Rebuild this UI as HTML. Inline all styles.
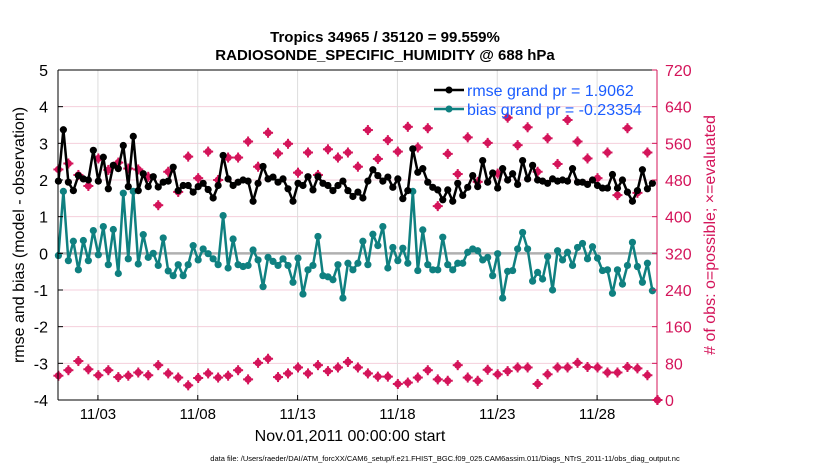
<!DOCTYPE html>
<html><head><meta charset="utf-8"><style>
body{margin:0;background:#fff;}
svg text{font-family:"Liberation Sans",sans-serif;}
</style></head><body>
<svg id="chart" width="830" height="470" viewBox="0 0 830 470" xmlns="http://www.w3.org/2000/svg">
<rect width="830" height="470" fill="#fff"/>
<g id="grid"></g>
<g id="series"></g>
<g id="axes"></g>
<text x="385" y="42" text-anchor="middle" font-size="15" font-weight="bold">Tropics 34965 / 35120 = 99.559%</text>
<text x="385" y="60" text-anchor="middle" font-size="15" font-weight="bold">RADIOSONDE_SPECIFIC_HUMIDITY @ 688 hPa</text>
<text transform="translate(24,235) rotate(-90)" text-anchor="middle" font-size="16">rmse and bias (model - observation)</text>
<text transform="translate(715,235) rotate(-90)" text-anchor="middle" font-size="16" fill="#d4145a"># of obs: o=possible; ×=evaluated</text>
<text x="350" y="441" text-anchor="middle" font-size="16">Nov.01,2011 00:00:00 start</text>
<text x="445" y="461" text-anchor="middle" font-size="7.5">data file: /Users/raeder/DAI/ATM_forcXX/CAM6_setup/f.e21.FHIST_BGC.f09_025.CAM6assim.011/Diags_NTrS_2011-11/obs_diag_output.nc</text>
<g>
<line x1="434" y1="90" x2="464" y2="90" stroke="#000" stroke-width="2.5"/>
<circle cx="449" cy="90" r="3.5" fill="#000"/>
<text x="467" y="96" font-size="16" fill="#1a5cff">rmse grand pr = 1.9062</text>
<line x1="434" y1="109" x2="464" y2="109" stroke="#0f8080" stroke-width="2.5"/>
<circle cx="449" cy="109" r="3.5" fill="#0f8080"/>
<text x="467" y="115" font-size="16" fill="#1a5cff">bias grand pr = -0.23354</text>
</g>
</svg>
<script>
const rmse=[1.97,3.37,1.94,1.71,2.12,2.03,2.0,2.81,1.97,2.62,1.76,2.40,2.31,2.94,1.82,3.19,1.71,2.17,1.82,2.09,1.81,1.94,1.97,2.35,1.71,1.85,1.85,1.67,1.82,1.91,1.74,1.51,1.85,2.67,2.03,1.85,1.94,2.0,1.97,1.42,1.91,2.37,2.03,2.08,1.94,2.03,1.76,1.42,1.91,1.85,2.09,1.73,2.09,1.91,1.85,1.71,1.85,1.97,1.71,1.55,1.67,1.51,1.97,2.28,2.12,1.97,2.08,1.80,2.03,1.49,1.71,2.85,2.21,2.31,1.94,1.80,1.73,1.46,1.73,1.42,1.91,1.58,1.80,2.12,1.82,2.53,1.94,2.19,1.78,2.31,2.0,2.17,1.88,2.53,2.03,2.40,2.0,1.97,1.91,2.03,1.97,2.0,1.97,2.31,1.94,1.94,1.88,2.0,1.85,1.78,1.78,2.15,1.78,2.0,1.67,1.42,1.71,2.28,1.76,1.91];
const bias=[-0.06,1.69,-0.20,0.33,-0.45,0.35,-0.20,0.62,-0.04,0.73,-0.31,0.65,-0.55,1.64,-0.15,1.69,-0.29,0.51,-0.11,0.0,-0.33,0.42,-0.48,-0.61,-0.31,-0.61,-0.31,0.21,-0.18,0.12,-0.01,-0.15,-0.31,1.03,-0.40,0.39,-0.31,-0.36,-0.33,0.09,-0.18,-0.91,-0.11,-0.22,-0.33,-0.15,-0.33,-0.79,-0.13,-1.11,-0.45,-0.33,0.46,-0.61,-0.64,-0.72,-0.31,-1.22,-0.27,-0.45,-0.27,0.33,-0.31,0.52,0.21,0.73,-0.40,0.16,-0.20,0.14,-0.27,1.69,-0.47,0.64,-0.31,-0.45,-0.45,0.44,-0.31,-0.45,-0.27,-0.27,0.03,0.12,0.07,-0.18,-0.11,-0.61,-0.01,-1.22,-0.49,-0.47,0.12,0.57,0.12,-0.76,-0.52,-0.70,-0.09,-1.0,0.07,-0.18,0.03,-0.33,0.16,0.27,-0.15,0.18,-0.13,-0.47,-0.45,-1.09,-0.45,-0.84,-0.33,0.30,-0.36,-0.79,-0.27,-1.02];
const possible=[503,516,491,467,527,502,518,505,503,487,425,498,454,531,484,542,480,529,529,564,509,583,538,559,496,540,491,547,529,540,509,589,526,567,542,596,551,593,423,537,493,573,476,561,494,616,556,595,498,571,515,611,564,527,484,540,447,593,452,540,0];
const evaluated=[53,65,85,67,54,65,50,53,60,54,76,58,49,32,48,58,49,53,65,45,81,90,50,58,71,58,76,63,71,83,71,58,51,51,35,38,49,65,45,42,76,49,42,66,56,63,71,71,35,56,71,71,81,72,71,60,60,72,69,54,0];
const yTicksL=[-4,-3,-2,-1,0,1,2,3,4,5];
const yTicksR=[0,80,160,240,320,400,480,560,640,720];
const xTickDays=[2,7,12,17,22,27];
const xTickLabels=["11/03","11/08","11/13","11/18","11/23","11/28"];

const L=58,R=657,T=70,B=400,NS='http://www.w3.org/2000/svg';
const xs=d=>L+(d/30)*(R-L);
const yL=v=>B-(v+4)/9*(B-T);
const yR=v=>B-v/720*(B-T);
function mk(tag,attrs,parent){const e=document.createElementNS(NS,tag);for(const k in attrs)e.setAttribute(k,attrs[k]);parent.appendChild(e);return e;}
const grid=document.getElementById('grid'),ser=document.getElementById('series'),ax=document.getElementById('axes');

yTicksL.forEach(v=>{const l=mk('line',{x1:L,x2:R,y1:yL(v),y2:yL(v),stroke:v===0?'#b0b0b0':'#f4cfdc','stroke-width':v===0?2.5:1},grid);

});
xTickDays.forEach((d,i)=>{const l=mk('line',{x1:xs(d),x2:xs(d),y1:T,y2:B,stroke:'#dcdcdc','stroke-width':1},grid);


const t=mk('text',{x:xs(d),y:419,'text-anchor':'middle','font-size':15},ax);t.textContent=xTickLabels[i];


mk('line',{x1:xs(d),x2:xs(d),y1:B,y2:B-5,stroke:'#000'},ax);});

function star(cx,cy,cls){const g=mk('g',{},ser);


mk('circle',{cx:cx,cy:cy,r:3.6,fill:'#d4145a'},g);
mk('line',{x1:cx-5,x2:cx+5,y1:cy,y2:cy,stroke:'#d4145a','stroke-width':2},g);
mk('line',{x1:cx,x2:cx,y1:cy-5,y2:cy+5,stroke:'#d4145a','stroke-width':2},g);}
possible.forEach((v,j)=>star(xs(j*0.5+0.02),yR(v),'possible-obs-marker'));
evaluated.forEach((v,j)=>star(xs(j*0.5+0.02),yR(v),'evaluated-obs-marker'));

function line(arr,color,name){const pts=arr.map((v,i)=>[xs(i*0.25+0.02),yL(v)]);
const p=mk('polyline',{points:pts.map(p=>p.join(',')).join(' '),fill:'none',stroke:color,'stroke-width':2.5,'stroke-linejoin':'round'},ser);


pts.forEach(q=>{const c=mk('circle',{cx:q[0],cy:q[1],r:3.6,fill:color},ser);

});}
line(bias,'#0f8080','bias');
line(rmse,'#000','rmse');

mk('line',{x1:L,x2:R,y1:T,y2:T,stroke:'#000'},ax);
mk('line',{x1:L,x2:R,y1:B,y2:B,stroke:'#000'},ax);
mk('line',{x1:L,x2:L,y1:T,y2:B,stroke:'#000'},ax);
mk('line',{x1:R,x2:R,y1:T,y2:B,stroke:'#d4145a'},ax);
yTicksL.forEach(v=>{mk('line',{x1:L,x2:L+5,y1:yL(v),y2:yL(v),stroke:'#000'},ax);
const t=mk('text',{x:L-10,y:yL(v)+6,'text-anchor':'end','font-size':16},ax);t.textContent=v;

});
yTicksR.forEach(v=>{mk('line',{x1:R-5,x2:R,y1:yR(v),y2:yR(v),stroke:'#d4145a'},ax);
const t=mk('text',{x:R+8,y:yR(v)+6,'font-size':16,fill:'#d4145a'},ax);t.textContent=v;

});
</script>
</body></html>
